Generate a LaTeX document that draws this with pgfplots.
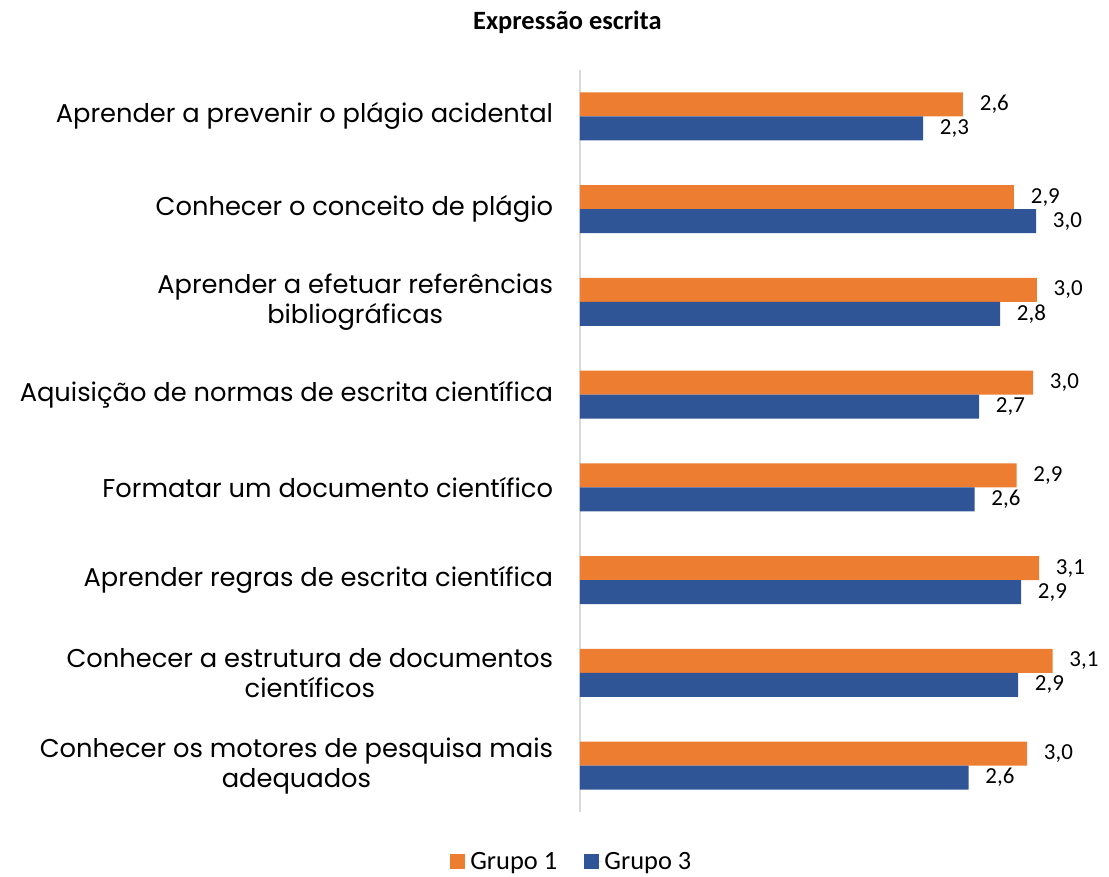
\documentclass[border=0pt]{standalone}
\usepackage{fontspec}
\setmainfont{Carlito}
\newfontfamily\catfont{Poppins}
\usepackage{pgfplots}
\pgfplotsset{compat=1.18}
\definecolor{gorange}{HTML}{ED7D31}
\definecolor{gblue}{HTML}{2F5597}
\definecolor{axgray}{HTML}{D9D9D9}
\begin{document}
\begin{tikzpicture}
\begin{axis}[
    at={(0,0)}, anchor=south west,
    scale only axis,
    width=382.5pt, height=556.5pt,
    xmin=0, xmax=3.4,
    ymin=0.5, ymax=8.5,
    xbar, bar width=18pt,
    axis x line=none,
    axis y line*=left,
    y axis line style={draw=axgray, line width=1.5pt},
    major tick length=0pt,
    ytick={1,...,8},
    yticklabels={{Conhecer os motores de pesquisa mais\\adequados},
                 {Conhecer a estrutura de documentos\\científicos},
                 {Aprender regras de escrita científica},
                 {Formatar um documento científico},
                 {Aquisição de normas de escrita científica},
                 {Aprender a efetuar referências\\bibliográficas},
                 {Conhecer o conceito de plágio},
                 {Aprender a prevenir o plágio acidental}},
    yticklabel style={font=\catfont\fontsize{19.3}{22.5}\selectfont,
                      align=center, inner sep=0pt, anchor=east, xshift=-20pt},
    nodes near coords,
    point meta=explicit symbolic,
    every node near coord/.append style={font=\fontsize{17.2}{20}\selectfont,
                      anchor=west, inner sep=0pt, xshift=12.5pt, black},
    legend style={draw=none, legend columns=2, at={(-0.016,-0.067)}, anchor=center,
                  font=\fontsize{19.8}{22}\selectfont,
                  /tikz/every even column/.append style={column sep=18pt}},
    legend image code/.code={\fill[#1] (0pt,-5.6pt) rectangle (11.25pt,5.6pt);
                             \path (0pt,0pt) -- (13.5pt,0pt);},
]
% Grupo 1
\addplot[fill=gorange, draw=none, bar shift=9pt] coordinates {
  (2.553,8) [2{,}6]
  (2.893,7) [2{,}9]
  (3.045,6) [3{,}0]
  (3.02,5)  [3{,}0]
  (2.91,4)  [2{,}9]
  (3.06,3)  [3{,}1]
  (3.15,2)  [3{,}1]
  (2.98,1)  [3{,}0]
};
% Grupo 3
\addplot[fill=gblue, draw=none, bar shift=-9pt] coordinates {
  (2.287,8) [2{,}3]
  (3.04,7)  [3{,}0]
  (2.80,6)  [2{,}8]
  (2.66,5)  [2{,}7]
  (2.63,4)  [2{,}6]
  (2.94,3)  [2{,}9]
  (2.92,2)  [2{,}9]
  (2.59,1)  [2{,}6]
};
\legend{Grupo 1, Grupo 3}
\end{axis}
\node[font=\bfseries\fontsize{19.8}{22}\selectfont, anchor=center]
  at (-9.4pt,592.5pt) {Expressão escrita};
\pgfresetboundingbox
\path[use as bounding box] (-435pt,-48.75pt) rectangle (396.75pt,609pt);
\end{tikzpicture}
\end{document}
